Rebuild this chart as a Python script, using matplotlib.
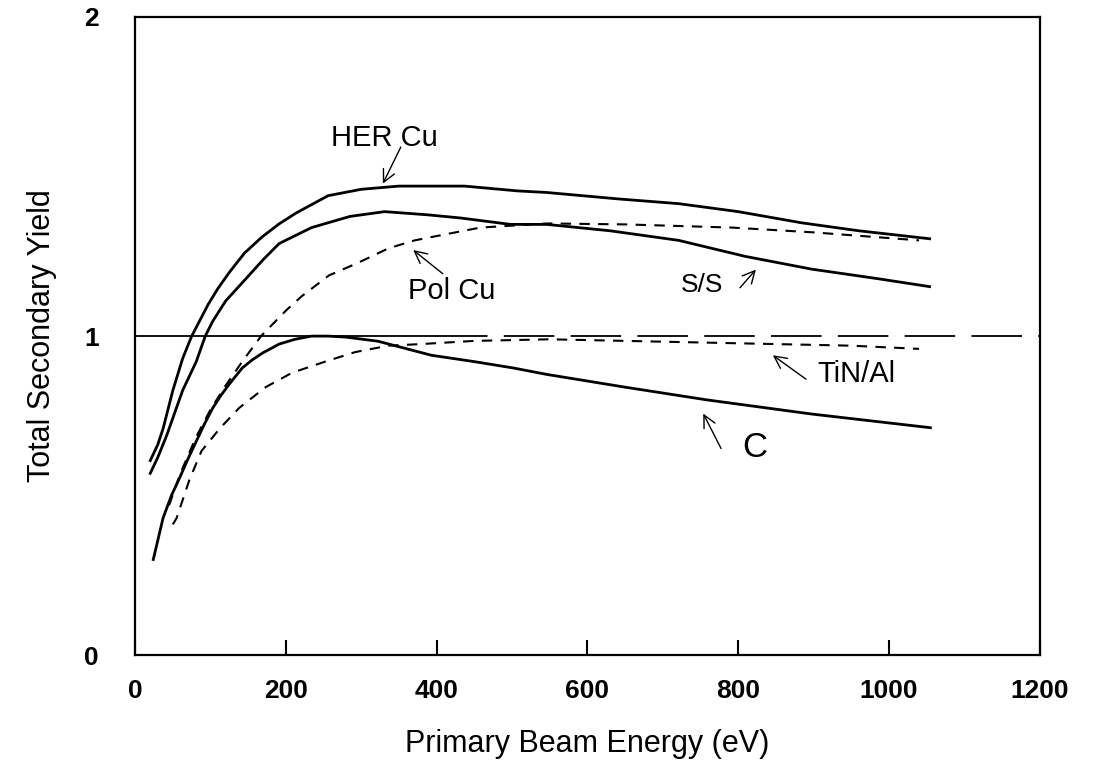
import matplotlib.pyplot as plt

# Data
her_x = [20, 30, 37, 50, 63, 75, 86, 97, 110, 125, 145, 168, 190, 213, 256, 300, 350, 437, 507, 546, 640, 721, 800, 884, 960, 1054]
her_y = [0.61, 0.66, 0.71, 0.83, 0.93, 1.00, 1.05, 1.10, 1.15, 1.20, 1.26, 1.31, 1.35, 1.385, 1.44, 1.46, 1.47, 1.47, 1.455, 1.45, 1.43, 1.415, 1.39, 1.355, 1.33, 1.305]

ss_x = [20, 30, 42, 63, 81, 93, 103, 120, 147, 170, 191, 234, 285, 331, 388, 432, 498, 546, 630, 721, 809, 897, 985, 1054]
ss_y = [0.57, 0.62, 0.69, 0.83, 0.92, 1.0, 1.047, 1.11, 1.18, 1.24, 1.29, 1.34, 1.375, 1.39, 1.38, 1.37, 1.35, 1.35, 1.33, 1.30, 1.25, 1.21, 1.18, 1.155]

pol_x = [45, 60, 80, 100, 120, 142, 167, 200, 221, 257, 296, 336, 371, 414, 458, 547, 650, 792, 900, 1040]
pol_y = [0.47, 0.57, 0.68, 0.77, 0.845, 0.92, 1.0, 1.08, 1.125, 1.19, 1.23, 1.275, 1.30, 1.32, 1.34, 1.353, 1.35, 1.34, 1.325, 1.30]

tin_x = [50, 55, 72, 88, 112, 138, 173, 208, 252, 292, 336, 379, 450, 550, 650, 750, 850, 950, 1040]
tin_y = [0.41, 0.43, 0.55, 0.64, 0.71, 0.775, 0.84, 0.885, 0.92, 0.95, 0.97, 0.975, 0.985, 0.99, 0.985, 0.98, 0.975, 0.97, 0.96]

c_x = [24, 37, 48, 59, 70, 81, 92, 103, 114, 125, 142, 155, 169, 191, 212, 234, 256, 279, 322, 393, 450, 502, 546, 650, 759, 897, 1055]
c_y = [0.30, 0.43, 0.50, 0.556, 0.615, 0.67, 0.725, 0.775, 0.815, 0.85, 0.90, 0.925, 0.947, 0.975, 0.99, 1.0, 1.0, 0.997, 0.984, 0.94, 0.92, 0.90, 0.88, 0.84, 0.80, 0.756, 0.713]

x_ticks = [0, 200, 400, 600, 800, 1000, 1200]
y_ticks = [0, 1, 2]

plt.rcParams['font.family'] = ['Liberation Sans', 'DejaVu Sans']

fig = plt.figure(figsize=(10.99, 7.70), dpi=100)
ax = fig.add_axes([0.123, 0.149, 0.823, 0.829])

ax.plot(her_x, her_y, color='black', lw=2.0)
ax.plot(ss_x, ss_y, color='black', lw=2.0)
ax.plot(c_x, c_y, color='black', lw=2.0)
ax.plot(pol_x, pol_y, color='black', lw=1.5, dashes=(5, 4))
ax.plot(tin_x, tin_y, color='black', lw=1.5, dashes=(5, 4))

# reference line at yield = 1 (solid near the axis, long dashes after)
ax.plot([0, 400], [1.0, 1.0], color='black', lw=1.3)
ax.plot([400, 1200], [1.0, 1.0], color='black', lw=1.3, dashes=(28, 9))

ax.set_xlim(0, 1200)
ax.set_ylim(0, 2)
ax.set_xticks(x_ticks)
ax.set_yticks(y_ticks)

tick_font = dict(weight='bold', size=19)
ax.set_xticklabels([str(t) for t in x_ticks], **tick_font)
ax.set_yticklabels([str(t) for t in y_ticks], **tick_font)
ax.tick_params(axis='x', direction='in', length=11, width=1.5, pad=17)
ax.tick_params(axis='y', length=0, pad=26)
for s in ax.spines.values():
    s.set_linewidth(1.6)

ax.set_xlabel('Primary Beam Energy (eV)', fontsize=22, labelpad=19)
ax.set_ylabel('Total Secondary Yield', fontsize=22, labelpad=20)

arrow = dict(arrowstyle='->', color='black', lw=1.0, mutation_scale=22)
lbl = dict(fontsize=21, ha='center', va='center')
ax.annotate('', xy=(327, 1.47), xytext=(354, 1.60), arrowprops=arrow)
ax.text(330, 1.62, 'HER Cu', **lbl)
ax.annotate('', xy=(366, 1.275), xytext=(411, 1.19), arrowprops=arrow)
ax.text(420, 1.14, 'Pol Cu', **lbl)
ax.annotate('', xy=(826, 1.215), xytext=(800, 1.145), arrowprops=arrow)
ax.text(752, 1.16, 'S/S', fontsize=19, ha='center', va='center')
ax.annotate('', xy=(843, 0.945), xytext=(893, 0.86), arrowprops=arrow)
ax.text(957, 0.88, 'TiN/Al', **lbl)
ax.annotate('', xy=(752, 0.765), xytext=(779, 0.64), arrowprops=arrow)
ax.text(822, 0.65, 'C', fontsize=25, ha='center', va='center')

fig.savefig('out.png', dpi=100)
